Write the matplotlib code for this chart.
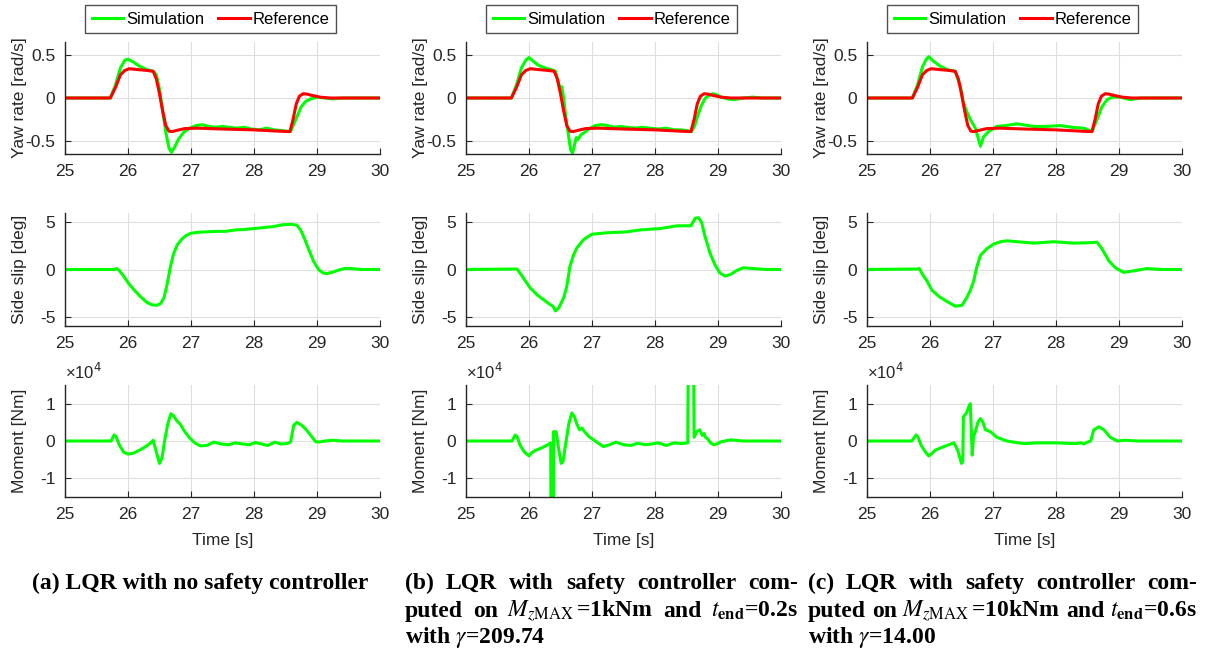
import matplotlib
matplotlib.use('Agg')
import matplotlib.pyplot as plt

plt.rcParams['font.family'] = 'Liberation Sans'
plt.rcParams['mathtext.fontset'] = 'stix'
plt.rcParams['axes.unicode_minus'] = False

GREEN = '#00ff00'
RED = '#ff0000'
INK = '#262626'

# ---- data ----
x_ticks = [25, 26, 27, 28, 29, 30]
yaw_ticks = [-0.5, 0, 0.5]
yaw_tick_labels = ['-0.5', '0', '0.5']
slip_ticks = [-5, 0, 5]
slip_tick_labels = ['-5', '0', '5']
moment_ticks = [-1e4, 0, 1e4]
moment_tick_labels = ['-1', '0', '1']

# yaw rate reference (same in all three runs)
t_yaw_ref = [25.0, 25.72, 25.80, 25.88, 25.95, 26.02, 26.15, 26.30, 26.40, 26.45, 26.50, 26.55,
             26.60, 26.65, 26.70, 26.78, 26.90, 27.10, 27.50, 28.00, 28.40, 28.57, 28.62, 28.67,
             28.72, 28.78, 28.84, 28.92, 29.05, 29.20, 30.0]
yaw_ref = [0, 0, 0.12, 0.27, 0.32, 0.34, 0.33, 0.32, 0.31, 0.22, 0.05, -0.15,
           -0.32, -0.385, -0.39, -0.375, -0.355, -0.35, -0.36, -0.37, -0.385, -0.39, -0.25, -0.07,
           0.02, 0.05, 0.045, 0.03, 0.01, 0, 0]

# (a) no safety controller
t_yaw_a = [25.0, 25.72, 25.80, 25.88, 25.95, 26.00, 26.08, 26.18, 26.30, 26.40, 26.45, 26.50,
           26.55, 26.60, 26.65, 26.69, 26.74, 26.80, 26.88, 26.98, 27.08, 27.18, 27.28, 27.38,
           27.50, 27.60, 27.72, 27.85, 27.95, 28.08, 28.20, 28.32, 28.45, 28.58, 28.62, 28.68,
           28.75, 28.82, 28.90, 29.00, 29.12, 29.25, 29.40, 30.0]
yaw_a = [0, 0, 0.15, 0.35, 0.44, 0.45, 0.42, 0.37, 0.33, 0.31, 0.27, 0.10,
         -0.15, -0.40, -0.58, -0.63, -0.57, -0.48, -0.40, -0.35, -0.32, -0.31, -0.33, -0.34,
         -0.33, -0.34, -0.35, -0.34, -0.36, -0.37, -0.35, -0.37, -0.38, -0.39, -0.32, -0.22,
         -0.1, -0.04, -0.01, 0.01, 0.0, -0.01, 0.0, 0]
t_slip_a = [25.0, 25.78, 25.82, 25.86, 25.92, 26.00, 26.10, 26.20, 26.30, 26.38, 26.46, 26.52,
            26.57, 26.62, 26.67, 26.72, 26.78, 26.85, 26.92, 27.00, 27.10, 27.25, 27.40, 27.55,
            27.70, 27.85, 28.00, 28.15, 28.30, 28.45, 28.60, 28.68, 28.74, 28.80, 28.87, 28.95,
            29.03, 29.10, 29.16, 29.25, 29.35, 29.45, 29.55, 29.70, 30.0]
slip_a = [0, 0, 0.1, -0.1, -0.6, -1.4, -2.2, -2.9, -3.5, -3.75, -3.8, -3.6,
          -3.0, -1.6, 0.2, 1.6, 2.6, 3.2, 3.6, 3.85, 3.95, 4.0, 4.05, 4.05,
          4.2, 4.25, 4.35, 4.45, 4.55, 4.75, 4.8, 4.7, 4.2, 3.3, 2.1, 0.8,
          -0.05, -0.38, -0.43, -0.28, -0.05, 0.12, 0.1, 0.0, 0]
t_mom_a = [25.0, 25.73, 25.78, 25.81, 25.86, 25.93, 26.00, 26.08, 26.18, 26.28, 26.36, 26.40,
           26.45, 26.50, 26.54, 26.58, 26.63, 26.68, 26.72, 26.77, 26.83, 26.90, 26.98, 27.06,
           27.15, 27.25, 27.36, 27.48, 27.60, 27.70, 27.82, 27.93, 28.02, 28.12, 28.22, 28.33,
           28.42, 28.52, 28.58, 28.63, 28.68, 28.75, 28.82, 28.90, 28.98, 29.03, 29.12, 29.25,
           29.40, 30.0]
mom_a = [0, 0, 1600, 1200, -1000, -3000, -3500, -3300, -2500, -1500, -500, 200,
         -3000, -6000, -4500, 0, 4500, 7300, 6800, 5500, 4500, 2500, 800, -500,
         -1300, -1200, -300, -800, -1000, -500, -800, -1000, -400, -800, -1200, -300,
         -800, -700, -300, 4200, 5000, 4300, 3200, 1500, -200, -300, 0, 200,
         0, 0]

# (b) safety controller, Mz_max = 1 kNm, t_end = 0.2 s
t_yaw_b = [25.0, 25.72, 25.80, 25.88, 25.95, 26.00, 26.06, 26.15, 26.25, 26.35, 26.42, 26.46,
           26.49, 26.52, 26.55, 26.58, 26.62, 26.66, 26.69, 26.72, 26.75, 26.78, 26.82, 26.88,
           26.95, 27.05, 27.15, 27.25, 27.35, 27.45, 27.55, 27.68, 27.80, 27.92, 28.05, 28.18,
           28.30, 28.42, 28.52, 28.58, 28.63, 28.68, 28.74, 28.80, 28.86, 28.92, 28.97, 29.05,
           29.15, 29.25, 29.40, 29.55, 29.70, 30.0]
yaw_b = [0, 0, 0.15, 0.35, 0.44, 0.47, 0.43, 0.38, 0.35, 0.33, 0.31, 0.2,
         0.12, 0.13, 0.0, -0.2, -0.4, -0.6, -0.64, -0.55, -0.46, -0.48, -0.43, -0.4,
         -0.36, -0.32, -0.31, -0.32, -0.34, -0.33, -0.34, -0.35, -0.34, -0.35, -0.36, -0.35,
         -0.37, -0.37, -0.38, -0.39, -0.32, -0.2, -0.08, 0.0, 0.03, 0.05, 0.04, 0.01,
         -0.01, -0.02, 0.0, 0.01, 0.0, 0]
t_slip_b = [25.0, 25.81, 25.88, 25.95, 26.02, 26.13, 26.23, 26.34, 26.38, 26.42, 26.47, 26.55,
            26.60, 26.65, 26.71, 26.76, 26.87, 27.00, 27.24, 27.55, 27.76, 28.08, 28.35, 28.57,
            28.64, 28.69, 28.74, 28.79, 28.87, 28.95, 29.03, 29.11, 29.19, 29.30, 29.40, 29.56,
            29.77, 30.0]
slip_b = [0, 0.05, -0.6, -1.3, -1.96, -2.7, -3.2, -3.75, -3.9, -4.4, -4.1, -3.0,
          -1.8, 0.36, 1.6, 2.3, 3.2, 3.75, 3.9, 4.0, 4.2, 4.35, 4.64, 4.64,
          5.46, 5.5, 5.0, 3.6, 1.8, 0.5, -0.36, -0.7, -0.55, -0.1, 0.18, 0.1,
          0, 0]
t_mom_b = [25.0, 25.73, 25.78, 25.81, 25.86, 25.93, 26.00, 26.04, 26.10, 26.15, 26.22, 26.30,
           26.345, 26.35, 26.385, 26.39, 26.43, 26.47, 26.51, 26.54, 26.58, 26.63, 26.68, 26.72,
           26.76, 26.80, 26.84, 26.88, 26.95, 27.05, 27.18, 27.28, 27.38, 27.50, 27.62, 27.72,
           27.85, 27.95, 28.05, 28.18, 28.30, 28.42, 28.52, 28.53, 28.61, 28.62, 28.66, 28.71,
           28.75, 28.78, 28.80, 28.84, 28.88, 28.93, 28.98, 29.05, 29.20, 29.40, 30.0]
mom_b = [0, 0, 1600, 1200, -1200, -3000, -4000, -3200, -2500, -2200, -1700, -1000,
         -500, -30000, -30000, 2500, 2500, -2000, -6000, -5500, -1000, 4500, 7500, 6500,
         4500, 3000, 3500, 2500, 1200, 0, -1500, -1000, -300, -1000, -1200, -600,
         -1000, -800, -500, -1200, -500, -700, -500, 30000, 30000, 1000, 2500, 3000,
         1500, 2000, 1000, 500, -500, -1000, -800, -200, 300, 0, 0]

# (c) safety controller, Mz_max = 10 kNm, t_end = 0.6 s
t_yaw_c = [25.0, 25.72, 25.80, 25.88, 25.94, 25.98, 26.05, 26.16, 26.27, 26.40, 26.48, 26.53,
           26.59, 26.64, 26.72, 26.77, 26.80, 26.85, 26.93, 27.06, 27.20, 27.38, 27.65, 27.85,
           28.07, 28.25, 28.44, 28.57, 28.65, 28.73, 28.81, 28.89, 29.02, 29.18, 29.34, 30.0]
yaw_c = [0, 0, 0.15, 0.36, 0.45, 0.48, 0.43, 0.37, 0.33, 0.31, 0.14, -0.06,
         -0.17, -0.25, -0.35, -0.48, -0.56, -0.45, -0.39, -0.33, -0.32, -0.3, -0.33, -0.33,
         -0.32, -0.34, -0.35, -0.39, -0.25, -0.1, -0.02, 0.01, 0.01, -0.02, 0.0, 0]
t_slip_c = [25.0, 25.80, 25.83, 25.88, 25.95, 26.03, 26.15, 26.27, 26.40, 26.51, 26.59, 26.64,
            26.69, 26.74, 26.80, 26.90, 27.01, 27.12, 27.22, 27.38, 27.65, 27.96, 28.28, 28.55,
            28.65, 28.73, 28.84, 28.94, 29.07, 29.23, 29.44, 29.66, 30.0]
slip_c = [0, 0.05, 0.1, -0.5, -1.2, -2.2, -2.9, -3.4, -3.9, -3.8, -2.9, -2.2,
          -1.3, 0.2, 1.5, 2.2, 2.7, 2.95, 3.05, 2.95, 2.8, 2.95, 2.8, 2.85,
          2.9, 2.2, 0.9, 0.2, -0.3, -0.15, 0.1, 0, 0]
t_mom_c = [25.0, 25.71, 25.78, 25.81, 25.86, 25.93, 25.98, 26.02, 26.08, 26.12, 26.22, 26.30,
           26.38, 26.44, 26.50, 26.52, 26.53, 26.58, 26.61, 26.64, 26.67, 26.69, 26.72, 26.76,
           26.80, 26.84, 26.88, 26.96, 27.06, 27.22, 27.40, 27.50, 27.70, 28.00, 28.30, 28.40,
           28.44, 28.50, 28.55, 28.60, 28.68, 28.76, 28.86, 28.97, 29.10, 29.30, 30.0]
mom_c = [0, 0, 1600, 1000, -1200, -3000, -4000, -3500, -2500, -2200, -1500, -1000,
         -500, -2500, -6000, -5500, 6500, 7500, 9000, 10000, -3800, 1200, 2500, 5000,
         6000, 5000, 3000, 2500, 1000, 0, -500, -700, -500, -500, -700, -500,
         -800, -300, 0, 3000, 3800, 3000, 1000, 0, 200, 0, 0]

sim_yaw = [(t_yaw_a, yaw_a), (t_yaw_b, yaw_b), (t_yaw_c, yaw_c)]
sim_slip = [(t_slip_a, slip_a), (t_slip_b, slip_b), (t_slip_c, slip_c)]
sim_mom = [(t_mom_a, mom_a), (t_mom_b, mom_b), (t_mom_c, mom_c)]

captions = {
    'a': [r'(a) LQR with no safety controller'],
    'b': [r'(b) LQR with safety controller com-',
          r'puted on $M_{z\mathrm{MAX}}\,$=1kNm and $t_{\mathbf{end}}$=0.2s',
          r'with $\gamma$=209.74'],
    'c': [r'(c) LQR with safety controller com-',
          r'puted on $M_{z\mathrm{MAX}}\,$=10kNm and $t_{\mathbf{end}}$=0.6s',
          r'with $\gamma$=14.00'],
}

# ---- layout (pixels of the 1205x655 figure) ----
W, H = 1205, 655
fig = plt.figure(figsize=(W / 100, H / 100), dpi=100)

col_left = [65, 466, 867]
col_width = 315
rows = [(42, 154), (213, 326), (385, 497)]


def add_px_axes(left, top, right, bottom):
    return fig.add_axes([left / W, 1 - bottom / H, (right - left) / W, (bottom - top) / H])


def style(ax, yticks, ylabels, ylim, ylabel):
    ax.set_xlim(25, 30)
    ax.set_ylim(*ylim)
    ax.set_xticks(x_ticks)
    ax.set_xticklabels([str(x) for x in x_ticks])
    ax.set_yticks(yticks)
    ax.set_yticklabels(ylabels)
    ax.grid(True, color='#dedede', lw=0.8)
    ax.set_axisbelow(True)
    for s in ['top', 'right']:
        ax.spines[s].set_visible(False)
    for s in ['left', 'bottom']:
        ax.spines[s].set_color(INK)
        ax.spines[s].set_linewidth(1.0)
    ax.tick_params(direction='in', length=4, width=0.8, colors=INK, labelsize=12.5, pad=7)
    ax.set_ylabel(ylabel, fontsize=12.5, color=INK)
    ax.yaxis.set_label_coords(-0.12, 0.5)


for i in range(3):
    L = col_left[i]
    R = L + col_width

    # yaw rate
    ax = add_px_axes(L, rows[0][0], R, rows[0][1])
    sim_line, = ax.plot(*sim_yaw[i], color=GREEN, lw=2.2)
    ref_line, = ax.plot(t_yaw_ref, yaw_ref, color=RED, lw=2.2)
    style(ax, yaw_ticks, yaw_tick_labels, (-0.65, 0.65), 'Yaw rate [rad/s]')

    leg = fig.legend([sim_line, ref_line], ['Simulation', 'Reference'], loc='center',
                     bbox_to_anchor=((L + col_width / 2 - 12) / W, 1 - 19 / H), ncol=2,
                     frameon=True, fancybox=False, edgecolor=INK, fontsize=12,
                     handlelength=1.9, handletextpad=0.15, columnspacing=0.85, borderpad=0.4,
                     borderaxespad=0)
    leg.get_frame().set_linewidth(1.0)

    # side slip
    ax = add_px_axes(L, rows[1][0], R, rows[1][1])
    ax.plot(*sim_slip[i], color=GREEN, lw=2.2)
    style(ax, slip_ticks, slip_tick_labels, (-6, 6), 'Side slip [deg]')

    # moment
    ax = add_px_axes(L, rows[2][0], R, rows[2][1])
    ax.plot(*sim_mom[i], color=GREEN, lw=2.2)
    style(ax, moment_ticks, moment_tick_labels, (-1.5e4, 1.5e4), 'Moment [Nm]')
    ax.set_xlabel('Time [s]', fontsize=12.5, color=INK, labelpad=8)
    ax.text(0.0, 1.03, '\u00d710$^{4}$', transform=ax.transAxes, ha='left', va='bottom',
            fontsize=12, color=INK, math_fontfamily='dejavusans')

# ---- captions ----
cap_kw = dict(family='Liberation Serif', weight='bold', fontsize=17, color='black', va='baseline')
renderer = fig.canvas.get_renderer()


def justified(line, x0, x1, y):
    words = line.split(' ')
    texts = [fig.text(0, 1 - y / H, w, **cap_kw) for w in words]
    widths = [t.get_window_extent(renderer).width for t in texts]
    gap = (x1 - x0 - sum(widths)) / (len(words) - 1)
    x = x0
    for t, w in zip(texts, widths):
        t.set_x(x / W)
        x += w + gap


baselines = [589, 617, 643]
fig.text(200 / W, 1 - baselines[0] / H, captions['a'][0], ha='center', **cap_kw)
for key, (x0, x1) in [('b', (405, 798)), ('c', (808, 1197))]:
    lines = captions[key]
    justified(lines[0], x0, x1, baselines[0])
    justified(lines[1], x0, x1, baselines[1])
    fig.text(x0 / W, 1 - baselines[2] / H, lines[2], ha='left', **cap_kw)

fig.savefig('out.png', dpi=100)
